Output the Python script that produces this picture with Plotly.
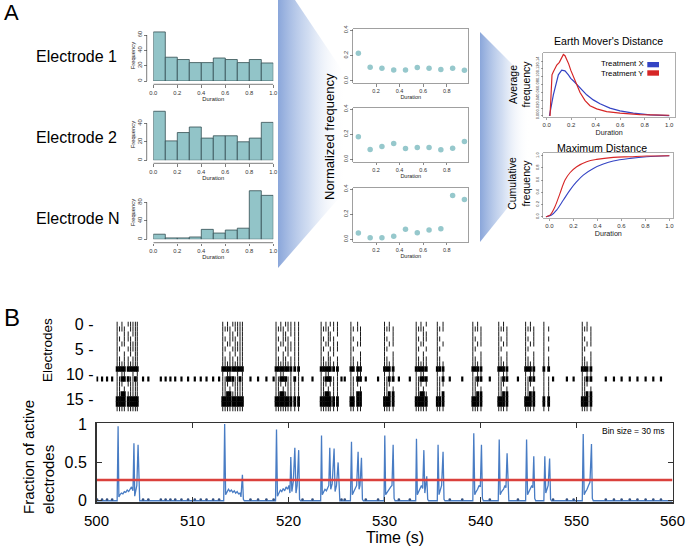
import plotly.graph_objects as go

W, H = 688, 546
FONT = "Liberation Sans, Arial, sans-serif"
TEAL = "rgb(146,196,200)"
TEAL_EDGE = "rgb(52,78,82)"
DOT = "rgb(150,200,204)"
BLUE = "rgb(52,68,196)"
RED = "rgb(214,38,38)"
TRACE_BLUE = "rgb(72,124,196)"
THR_RED = "rgb(218,64,60)"

# ---------------- Panel A data ----------------
bin_centers = [0.05, 0.15, 0.25, 0.35, 0.45, 0.55, 0.65, 0.75, 0.85, 0.95]
hist_e1 = [64, 31, 28, 24, 24, 30, 28, 24, 28, 23.5]
hist_e2 = [53, 21, 30, 36, 24, 26.5, 26.5, 20, 24, 41]
hist_eN = [11, 3, 3, 5, 21.5, 13.5, 20, 24, 105, 95]
hist_yticks = [[0, 20, 40, 60], [0, 20, 40], [0, 40, 80]]
electrode_names = ["Electrode 1", "Electrode 2", "Electrode N"]

norm_e1 = [0.218, 0.108, 0.100, 0.086, 0.086, 0.105, 0.100, 0.089, 0.100, 0.084]
norm_e2 = [0.180, 0.079, 0.103, 0.126, 0.087, 0.095, 0.095, 0.076, 0.089, 0.142]
norm_eN = [0.050, 0.013, 0.013, 0.024, 0.080, 0.053, 0.075, 0.085, 0.350, 0.317]

dur_ticks = [0.0, 0.2, 0.4, 0.6, 0.8, 1.0]
dur_ticktext = ["0.0", "0.2", "0.4", "0.6", "0.8", "1.0"]

emd_x_X = [0.022, 0.027, 0.041, 0.054, 0.076, 0.095, 0.122, 0.149, 0.177, 0.196, 0.223,
           0.272, 0.326, 0.380, 0.435, 0.516, 0.598, 0.707, 0.842, 1.0]
emd_y_X = [0.0, 0.011, 0.032, 0.054, 0.083, 0.105, 0.117, 0.115, 0.105, 0.096, 0.088,
           0.071, 0.054, 0.041, 0.031, 0.020, 0.013, 0.007, 0.0025, 0.001]
emd_x_Y = [0.027, 0.035, 0.043, 0.054, 0.068, 0.082, 0.103, 0.122, 0.136, 0.149, 0.163,
           0.179, 0.196, 0.217, 0.245, 0.272, 0.313, 0.353, 0.408, 0.489, 0.598, 0.761, 1.0]
emd_y_Y = [0.0, 0.066, 0.105, 0.113, 0.122, 0.130, 0.137, 0.147, 0.157, 0.154, 0.146,
           0.133, 0.117, 0.100, 0.079, 0.060, 0.039, 0.026, 0.018, 0.011, 0.007, 0.0035, 0.0017]
emd_yticks = [0.0, 0.02, 0.04, 0.06, 0.08, 0.10, 0.12, 0.14]

cum_x_X = [-0.028, 0.019, 0.061, 0.117, 0.172, 0.228, 0.283, 0.367, 0.450, 0.533, 0.672, 0.811, 1.0]
cum_y_X = [0.0, 0.027, 0.109, 0.273, 0.437, 0.574, 0.683, 0.792, 0.863, 0.913, 0.956, 0.984, 1.0]
cum_x_Y = [-0.028, 0.006, 0.047, 0.089, 0.131, 0.172, 0.228, 0.311, 0.394, 0.533, 0.672, 0.811, 1.0]
cum_y_Y = [0.0, 0.027, 0.164, 0.383, 0.601, 0.721, 0.820, 0.902, 0.940, 0.973, 0.984, 0.995, 1.0]
cum_yticks = [0.0, 0.2, 0.4, 0.6, 0.8, 1.0]

# ---------------- Panel B data ----------------
burst_cols = [
    [502.15, 502.4, 502.65, 502.9, 503.3, 503.55, 503.8, 504.05, 504.25],
    [513.15, 513.4, 513.65, 513.9, 514.2, 514.45, 514.7, 514.95, 515.2],
    [518.7, 518.95, 519.2, 519.45, 519.7, 519.95, 520.25, 520.65, 521.05],
    [523.4, 523.65, 523.9, 524.15, 524.35, 524.7, 525.1],
    [526.5, 526.75, 527.2, 527.5],
    [530.0, 530.25, 530.5, 530.9],
    [533.3, 533.55, 533.8, 534.05, 534.35],
    [535.5, 535.75, 536.1],
    [539.2, 539.45, 539.7, 540.05],
    [541.9, 542.15, 542.4, 542.75],
    [544.7, 544.95, 545.2, 545.55],
    [546.6, 547.1],
    [550.6, 550.85, 551.1, 551.5],
]
row_masks = [
    "101011111", "111101111", "100110111", "110111011", "101101111", "110011111",
    "100101011", "110110111", "111111111", "222222222", "101100101", "112221121",
    "111011111", "110101111", "112211111", "222222222", "222222222", "111111111",
]
tonic_row = 11
tonic_times = [500.06, 500.58, 501.1, 501.63, 504.85, 505.4, 506.7, 507.2, 507.7, 508.2,
               508.85, 509.54, 510.24, 510.86, 511.46, 512.15, 512.77, 516.04, 516.83,
               517.7, 518.45, 521.46, 522.5, 525.52, 525.86, 528.05, 529.33, 531.5,
               532.64, 536.8, 538.1, 540.97, 543.9, 547.56, 549.0, 549.7, 553.05, 553.9,
               554.7, 555.55, 556.35, 557.2, 558.0, 558.8]
raster_ticks = [0, 5, 10, 15]

frac_bursts = [
    [(502.15, 0), (502.25, 0.97), (502.33, 0.05), (502.45, 0.08), (502.6, 0.1), (502.75, 0.09),
     (502.9, 0.12), (503.05, 0.11), (503.2, 0.14), (503.35, 0.12), (503.5, 0.16), (503.65, 0.18),
     (503.8, 0.13), (503.9, 0.75), (503.98, 0.06), (504.1, 0.15), (504.2, 0.2), (504.33, 0.73),
     (504.42, 0.02), (504.5, 0)],
    [(513.25, 0), (513.35, 1.0), (513.45, 0.08), (513.6, 0.12), (513.75, 0.15), (513.9, 0.12),
     (514.05, 0.14), (514.2, 0.11), (514.35, 0.13), (514.5, 0.1), (514.65, 0.12), (514.8, 0.09),
     (514.95, 0.1), (515.05, 0.05), (515.2, 0.34), (515.3, 0.02), (515.4, 0)],
    [(518.65, 0), (518.75, 0.93), (518.85, 0.06), (519.0, 0.1), (519.15, 0.14), (519.3, 0.12),
     (519.45, 0.16), (519.6, 0.13), (519.75, 0.18), (519.9, 0.15), (520.05, 0.2), (520.15, 0.1),
     (520.24, 0.57), (520.35, 0.12), (520.5, 0.25), (520.66, 0.69), (520.78, 0.1), (520.9, 0.2),
     (521.06, 0.66), (521.15, 0.02), (521.25, 0)],
    [(523.35, 0), (523.44, 0.85), (523.52, 0.08), (523.65, 0.12), (523.8, 0.15), (523.95, 0.13),
     (524.1, 0.18), (524.2, 0.2), (524.3, 0.69), (524.4, 0.15), (524.55, 0.22), (524.75, 0.68),
     (524.85, 0.12), (525.0, 0.2), (525.17, 0.5), (525.27, 0.02), (525.35, 0)],
    [(526.45, 0), (526.56, 0.77), (526.65, 0.08), (526.8, 0.12), (526.95, 0.15), (527.1, 0.2),
     (527.25, 0.64), (527.35, 0.15), (527.45, 0.2), (527.6, 0.56), (527.7, 0.02), (527.8, 0)],
    [(529.95, 0), (530.03, 0.85), (530.12, 0.08), (530.3, 0.12), (530.5, 0.15), (530.65, 0.18),
     (530.78, 0.2), (530.9, 0.73), (531.0, 0.03), (531.1, 0)],
    [(533.25, 0), (533.33, 0.81), (533.42, 0.08), (533.55, 0.12), (533.7, 0.15), (533.85, 0.2),
     (533.98, 0.16), (534.1, 0.66), (534.2, 0.1), (534.3, 0.18), (534.4, 0.32), (534.5, 0.02),
     (534.6, 0)],
    [(535.5, 0), (535.58, 0.73), (535.68, 0.08), (535.8, 0.14), (535.95, 0.2), (536.1, 0.64),
     (536.2, 0.02), (536.3, 0)],
    [(539.2, 0), (539.3, 0.88), (539.4, 0.08), (539.55, 0.12), (539.7, 0.15), (539.85, 0.2),
     (539.98, 0.18), (540.1, 0.73), (540.2, 0.03), (540.3, 0)],
    [(541.85, 0), (541.95, 0.8), (542.05, 0.08), (542.2, 0.12), (542.4, 0.15), (542.55, 0.2),
     (542.65, 0.17), (542.77, 0.62), (542.87, 0.03), (542.95, 0)],
    [(544.7, 0), (544.8, 0.8), (544.9, 0.08), (545.05, 0.12), (545.2, 0.15), (545.35, 0.2),
     (545.45, 0.17), (545.55, 0.58), (545.65, 0.03), (545.75, 0)],
    [(546.6, 0), (546.7, 0.58), (546.8, 0.1), (546.95, 0.15), (547.05, 0.2), (547.2, 0.55),
     (547.3, 0.02), (547.4, 0)],
    [(550.6, 0), (550.7, 0.87), (550.8, 0.08), (550.95, 0.12), (551.1, 0.15), (551.25, 0.2),
     (551.4, 0.24), (551.56, 0.74), (551.65, 0.03), (551.75, 0)],
]
threshold = 0.27
time_ticks = [500, 510, 520, 530, 540, 550, 560]
frac_ticks = [0, 0.5, 1]
frac_ticktext = ["0", "0.5", "1"]


# ---------------- helpers ----------------
def px_x(a):
    return a / W


def px_y(b):
    return 1 - b / H


def dom_x(a, b):
    return [a / W, b / W]


def dom_y(top, bottom):
    return [1 - bottom / H, 1 - top / H]


def sfx(n):
    return "" if n == 1 else str(n)


fig = go.Figure()
layout = {}
shapes = []
annotations = []


def ann(text, x, y, size, angle=0, xanchor="center", yanchor="middle", color="black", align="center"):
    annotations.append(dict(text=text, x=px_x(x), y=px_y(y), xref="paper", yref="paper",
                            showarrow=False, font=dict(family=FONT, size=size, color=color),
                            textangle=angle, xanchor=xanchor, yanchor=yanchor, align=align))


def tf(size, color="#333"):
    return dict(family=FONT, size=size, color=color)


def dur_title(size):
    return dict(text="Duration", font=dict(family=FONT, size=size, color="#222"), standoff=1)


# ---------------- Histograms ----------------
hist_sets = [hist_e1, hist_e2, hist_eN]
hist_geo = [dict(top=31, zero=81, ppu=46 / 60, xline=84.3, flab=56),
            dict(top=110, zero=160.3, ppu=0.925, xline=163.3, flab=135),
            dict(top=190, zero=239.3, ppu=0.4625, xline=242.7, flab=213)]
elec_y = [57, 137.5, 218.5]
for i in range(3):
    n = i + 1
    s = sfx(n)
    g = hist_geo[i]
    ymax = (g["zero"] - g["top"]) / g["ppu"]
    fig.add_trace(go.Bar(x=bin_centers, y=hist_sets[i], width=0.1,
                         marker=dict(color=TEAL, line=dict(color=TEAL_EDGE, width=0.8)),
                         xaxis="x" + s, yaxis="y" + s, hoverinfo="skip"))
    layout["xaxis" + s] = dict(domain=dom_x(153.3, 273.3), range=[0, 1], anchor="free",
                               position=px_y(g["xline"]), showgrid=False, zeroline=False,
                               showline=False, ticks="outside", ticklen=2.5, tickwidth=0.7,
                               tickcolor="#444", tickvals=dur_ticks, ticktext=dur_ticktext,
                               tickfont=tf(5.8), title=dur_title(5.8))
    layout["yaxis" + s] = dict(domain=dom_y(g["top"], g["zero"]), range=[0, ymax], anchor="free",
                               position=px_x(146.7), showgrid=False, zeroline=False,
                               showline=False, ticks="outside", ticklen=2.5, tickwidth=0.7,
                               tickcolor="#444", tickvals=hist_yticks[i], tickangle=-90,
                               tickfont=tf(5.8))
    shapes.append(dict(type="line", xref="x" + s, yref="paper", x0=0, x1=1,
                       y0=px_y(g["xline"]), y1=px_y(g["xline"]), line=dict(color="#444", width=0.7)))
    shapes.append(dict(type="line", xref="paper", yref="y" + s, x0=px_x(146.7), x1=px_x(146.7),
                       y0=0, y1=hist_yticks[i][-1], line=dict(color="#444", width=0.7)))
    ann("Frequency", 133.3, g["flab"], 5.8, angle=-90, color="#222")
    ann(electrode_names[i], 34, elec_y[i], 16, xanchor="left")

# ---------------- Normalized frequency scatter ----------------
norm_sets = [norm_e1, norm_e2, norm_eN]
sc_geo = [(29.3, 83.3), (108.3, 161.7), (188.3, 241.7)]
for i in range(3):
    n = 4 + i
    s = sfx(n)
    top, bot = sc_geo[i]
    fig.add_trace(go.Scatter(x=bin_centers, y=norm_sets[i], mode="markers",
                             marker=dict(color=DOT, size=5.5), xaxis="x" + s, yaxis="y" + s,
                             hoverinfo="skip"))
    layout["xaxis" + s] = dict(domain=dom_x(353.3, 468.3), range=[0.007, 0.983], anchor="y" + s,
                               showgrid=False, zeroline=False, showline=True, mirror=True,
                               linecolor="#888", linewidth=0.8, ticks="outside", ticklen=2.5,
                               tickwidth=0.7, tickcolor="#555", tickvals=[0.2, 0.4, 0.6, 0.8],
                               ticktext=["0.2", "0.4", "0.6", "0.8"], tickfont=tf(5.5),
                               title=dur_title(5.5))
    layout["yaxis" + s] = dict(domain=dom_y(top, bot), range=[-0.019, 0.407], anchor="x" + s,
                               showgrid=False, zeroline=False, showline=True, mirror=True,
                               linecolor="#888", linewidth=0.8, ticks="outside", ticklen=2.5,
                               tickwidth=0.7, tickcolor="#555", tickvals=[0, 0.2, 0.4],
                               ticktext=["0.0", "0.2", "0.4"], tickangle=-90, tickfont=tf(5.5))
ann("Normalized frequency", 329.3, 136.7, 13, angle=-90)

# ---------------- EMD panel ----------------
s = sfx(7)
fig.add_trace(go.Scatter(x=emd_x_X, y=emd_y_X, mode="lines", line=dict(color=BLUE, width=1.2),
                         xaxis="x" + s, yaxis="y" + s, hoverinfo="skip", name="Treatment X"))
fig.add_trace(go.Scatter(x=emd_x_Y, y=emd_y_Y, mode="lines", line=dict(color=RED, width=1.2),
                         xaxis="x" + s, yaxis="y" + s, hoverinfo="skip", name="Treatment Y"))
layout["xaxis" + s] = dict(domain=dom_x(543.3, 675), range=[-0.028, 1.047], anchor="y" + s,
                           showgrid=False, zeroline=False, showline=True, mirror=True,
                           linecolor="#999", linewidth=0.8, ticks="outside", ticklen=2,
                           tickwidth=0.6, tickcolor="#666", tickvals=dur_ticks,
                           ticktext=dur_ticktext, tickfont=tf(6), title=dur_title(7.2))
layout["yaxis" + s] = dict(domain=dom_y(53.3, 117.3), range=[-0.0035, 0.160], anchor="x" + s,
                           showgrid=False, zeroline=False, showline=True, mirror=True,
                           linecolor="#999", linewidth=0.8, ticks="outside", ticklen=2,
                           tickwidth=0.6, tickcolor="#666", tickvals=emd_yticks,
                           ticktext=["%.2f" % v for v in emd_yticks], tickangle=-90,
                           tickfont=tf(4))
ann("Earth Mover's Distance", 608.5, 41, 10.6)
ann("Average<br>frequency", 519.5, 84, 10.5, angle=-90)
ann("Treatment X", 645.7, 63.8, 7.8, xanchor="right")
ann("Treatment Y", 645.7, 73.2, 7.8, xanchor="right")
shapes.append(dict(type="rect", xref="paper", yref="paper", x0=px_x(647.3), x1=px_x(659),
                   y0=px_y(67.3), y1=px_y(62), fillcolor=BLUE, line=dict(width=0)))
shapes.append(dict(type="rect", xref="paper", yref="paper", x0=px_x(647.3), x1=px_x(659),
                   y0=px_y(75.7), y1=px_y(70.3), fillcolor=RED, line=dict(width=0)))

# ---------------- Cumulative panel ----------------
s = sfx(8)
fig.add_trace(go.Scatter(x=cum_x_X, y=cum_y_X, mode="lines", line=dict(color=BLUE, width=1.1, shape="spline"),
                         xaxis="x" + s, yaxis="y" + s, hoverinfo="skip"))
fig.add_trace(go.Scatter(x=cum_x_Y, y=cum_y_Y, mode="lines", line=dict(color=RED, width=1.1, shape="spline"),
                         xaxis="x" + s, yaxis="y" + s, hoverinfo="skip"))
layout["xaxis" + s] = dict(domain=dom_x(543.3, 673.3), range=[-0.05, 1.033], anchor="y" + s,
                           showgrid=False, zeroline=False, showline=True, mirror=True,
                           linecolor="#999", linewidth=0.8, ticks="outside", ticklen=2,
                           tickwidth=0.6, tickcolor="#666", tickvals=dur_ticks,
                           ticktext=dur_ticktext, tickfont=tf(6), title=dur_title(7.2))
layout["yaxis" + s] = dict(domain=dom_y(153.3, 218.3), range=[-0.026, 1.04], anchor="x" + s,
                           showgrid=False, zeroline=False, showline=True, mirror=True,
                           linecolor="#999", linewidth=0.8, ticks="outside", ticklen=2,
                           tickwidth=0.6, tickcolor="#666", tickvals=cum_yticks,
                           ticktext=["%.1f" % v for v in cum_yticks], tickangle=-90,
                           tickfont=tf(4))
ann("Maximum Distance", 602, 148.3, 10.6)
ann("Cumulative<br>frequency", 519.5, 183.3, 10.5, angle=-90)

# ---------------- Raster ----------------
s = sfx(9)
thin_x, thin_y, thick_x, thick_y = [], [], [], []
for cols in burst_cols:
    for r, mask in enumerate(row_masks):
        for i, t in enumerate(cols):
            c = mask[i]
            if c == "1":
                thin_x.append(t)
                thin_y.append(r)
            elif c == "2":
                thick_x.append(t)
                thick_y.append(r)
fig.add_trace(go.Scatter(x=thin_x, y=thin_y, mode="markers",
                         marker=dict(symbol="line-ns", size=3.6, line=dict(color="rgb(25,25,25)", width=1.0)),
                         xaxis="x" + s, yaxis="y" + s, hoverinfo="skip"))
fig.add_trace(go.Scatter(x=thick_x, y=thick_y, mode="markers",
                         marker=dict(symbol="line-ns", size=3.8, line=dict(color="black", width=2.8)),
                         xaxis="x" + s, yaxis="y" + s, hoverinfo="skip"))
fig.add_trace(go.Scatter(x=tonic_times, y=[tonic_row] * len(tonic_times), mode="markers",
                         marker=dict(symbol="line-ns", size=3.4, line=dict(color="black", width=2.2)),
                         xaxis="x" + s, yaxis="y" + s, hoverinfo="skip"))
layout["xaxis" + s] = dict(domain=dom_x(96.5, 672.5), range=[500, 560], anchor="y" + s,
                           visible=False)
layout["yaxis" + s] = dict(domain=dom_y(321.5, 411.5), range=[17.5, -0.5], anchor="x" + s,
                           showgrid=False, zeroline=False, showline=False, ticks="",
                           tickvals=raster_ticks, ticktext=["%d -" % v for v in raster_ticks],
                           tickfont=tf(16, "black"), ticklabelstandoff=2)
ann("Electrodes", 47, 350, 13.5, angle=-90)

# ---------------- Fraction of active electrodes ----------------
s = sfx(10)
frac_t, frac_v = [500], [0]
for b in frac_bursts:
    for t, v in b:
        frac_t.append(t)
        frac_v.append(v)
frac_t.append(560)
frac_v.append(0)
fig.add_trace(go.Scatter(x=frac_t, y=frac_v, mode="lines", line=dict(color=TRACE_BLUE, width=1.3),
                         xaxis="x" + s, yaxis="y" + s, hoverinfo="skip"))
fig.add_trace(go.Scatter(x=tonic_times, y=[0.015] * len(tonic_times), mode="markers",
                         marker=dict(color="rgb(50,80,130)", size=2.6),
                         xaxis="x" + s, yaxis="y" + s, hoverinfo="skip"))
fig.add_trace(go.Scatter(x=[time_ticks[0], time_ticks[-1]], y=[threshold, threshold], mode="lines",
                         line=dict(color=THR_RED, width=2.4), xaxis="x" + s, yaxis="y" + s,
                         hoverinfo="skip"))
layout["xaxis" + s] = dict(domain=dom_x(96.5, 672.5), range=[500, 560], anchor="y" + s,
                           showgrid=False, zeroline=False, showline=True, mirror="ticks",
                           linecolor="#333", linewidth=1.5, ticks="inside", ticklen=5,
                           tickwidth=1.2, tickcolor="#333", tickvals=time_ticks,
                           tickfont=tf(15, "black"), ticklabelstandoff=4)
layout["yaxis" + s] = dict(domain=dom_y(423.3, 502.3), range=[-0.02, 1.01], anchor="x" + s,
                           showgrid=False, zeroline=False, showline=True, mirror="ticks",
                           linecolor="#333", linewidth=1.5, ticks="inside", ticklen=5,
                           tickwidth=1.2, tickcolor="#333", tickvals=frac_ticks,
                           ticktext=frac_ticktext, tickfont=tf(16, "black"), ticklabelstandoff=5)
ann("Fraction of active<br>electrodes", 38, 457, 15, angle=-90, align="left")
ann("Time (s)", 395, 537, 16)
ann("Bin size = 30 ms", 667, 431, 8.5, xanchor="right")

# ---------------- Panel letters ----------------
ann("A", 2, 12, 22, xanchor="left")
ann("B", 2, 317, 24, xanchor="left")

# ---------------- Gradient funnels (overlay subplot drawn last) ----------------
s = sfx(11)
grad_scale = [[0, "rgba(138,166,218,1)"], [0.45, "rgba(190,207,236,0.7)"], [1, "rgba(255,255,255,0)"]]
fig.add_trace(go.Scatter(x=[278, 295, 346, 346, 278, 278], y=[0, 0, 76, 190, 268, 0],
                         fill="toself", mode="lines", line=dict(width=0),
                         fillgradient=dict(type="horizontal", colorscale=grad_scale, start=278, stop=346),
                         xaxis="x" + s, yaxis="y" + s, hoverinfo="skip"))
fig.add_trace(go.Scatter(x=[480, 530, 530, 480, 480], y=[32, 82, 180, 242, 32],
                         fill="toself", mode="lines", line=dict(width=0),
                         fillgradient=dict(type="horizontal", colorscale=grad_scale, start=480, stop=530),
                         xaxis="x" + s, yaxis="y" + s, hoverinfo="skip"))
layout["xaxis" + s] = dict(domain=[0, 1], range=[0, W], anchor="y" + s, visible=False)
layout["yaxis" + s] = dict(domain=[0, 1], range=[H, 0], anchor="x" + s, visible=False)

fig.update_layout(
    width=W, height=H, autosize=False, margin=dict(l=0, r=0, t=0, b=0, autoexpand=False),
    paper_bgcolor="white", plot_bgcolor="rgba(0,0,0,0)",
    showlegend=False, hovermode=False, bargap=0,
    font=dict(family=FONT, color="black"),
    shapes=shapes, annotations=annotations,
    **layout,
)
fig.write_html("out.html", config={"displayModeBar": False, "staticPlot": True},
               post_script="document.body.style.margin='0';document.body.style.overflow='hidden';")
